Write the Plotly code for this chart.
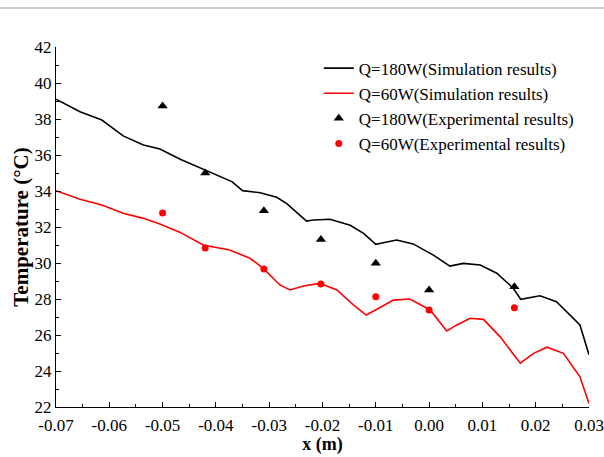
import plotly.graph_objects as go

# Simulation results, Q=180W
sim180_x = [-0.07, -0.0655, -0.0614, -0.0574, -0.0536, -0.0505, -0.0467, -0.0424, -0.0370, -0.0350,
            -0.0317, -0.0286, -0.0267, -0.0230, -0.0217, -0.0186, -0.0148, -0.0123, -0.0100, -0.0086,
            -0.0061, -0.0030, 0.0008, 0.0039, 0.0064, 0.0096, 0.0127, 0.0158, 0.0172, 0.0208,
            0.0239, 0.0283, 0.0300]
sim180_y = [39.1, 38.4, 37.94, 37.06, 36.56, 36.33, 35.76, 35.2, 34.52, 34.02,
            33.9, 33.65, 33.3, 32.33, 32.39, 32.43, 32.1, 31.65, 31.04, 31.13,
            31.28, 31.06, 30.44, 29.83, 29.98, 29.89, 29.43, 28.6, 27.98, 28.18,
            27.85, 26.56, 24.9]

# Simulation results, Q=60W
sim60_x = [-0.07, -0.0655, -0.0614, -0.0574, -0.0536, -0.0505, -0.0467, -0.0424, -0.0374, -0.0336,
           -0.0311, -0.0280, -0.0261, -0.0236, -0.0205, -0.0173, -0.0142, -0.0118, -0.0098, -0.0067,
           -0.0036, 0.0002, 0.0033, 0.0052, 0.0077, 0.0102, 0.0133, 0.0171, 0.0196, 0.0221,
           0.0252, 0.0283, 0.0300]
sim60_y = [34.02, 33.54, 33.22, 32.76, 32.48, 32.17, 31.7, 31.0, 30.72, 30.26,
           29.7, 28.78, 28.5, 28.72, 28.87, 28.5, 27.67, 27.11, 27.43, 27.94,
           28.0, 27.39, 26.22, 26.56, 26.93, 26.87, 25.91, 24.43, 24.98, 25.32,
           24.98, 23.68, 22.2]

# Experimental results
exp_x = [-0.05, -0.042, -0.031, -0.0203, -0.01, 0.0, 0.016]
exp180_y = [38.72, 35.0, 32.9, 31.3, 29.98, 28.5, 28.68]
exp60_y = [32.78, 30.83, 29.67, 28.83, 28.13, 27.39, 27.52]

x_ticks = [-0.07, -0.06, -0.05, -0.04, -0.03, -0.02, -0.01, 0.00, 0.01, 0.02, 0.03]
x_tick_text = ["-0.07", "-0.06", "-0.05", "-0.04", "-0.03", "-0.02", "-0.01", "0.00", "0.01", "0.02", "0.03"]
y_ticks = [22, 24, 26, 28, 30, 32, 34, 36, 38, 40, 42]

FONT = "Liberation Serif, Times New Roman, serif"

fig = go.Figure()
fig.add_trace(go.Scatter(x=sim180_x, y=sim180_y, mode="lines", name="Q=180W(Simulation results)",
                         line=dict(color="black", width=1.6)))
fig.add_trace(go.Scatter(x=sim60_x, y=sim60_y, mode="lines", name="Q=60W(Simulation results)",
                         line=dict(color="#ff0000", width=1.6)))
fig.add_trace(go.Scatter(x=exp_x, y=exp180_y, mode="markers", name="Q=180W(Experimental results)",
                         marker=dict(symbol="triangle-up", color="black", size=9)))
fig.add_trace(go.Scatter(x=exp_x, y=exp60_y, mode="markers", name="Q=60W(Experimental results)",
                         marker=dict(symbol="circle", color="#ff0000", size=7)))

axis_common = dict(showgrid=False, zeroline=False, showline=True, linecolor="black", linewidth=1.2,
                   ticks="inside", ticklen=5, tickwidth=1.2, tickcolor="black",
                   tickfont=dict(family=FONT, size=17, color="black"),
                   minor=dict(ticks="inside", ticklen=3, tickwidth=1, tickcolor="black"),
                   mirror=False, automargin=False)

fig.update_xaxes(range=[-0.07, 0.03], tickvals=x_ticks, ticktext=x_tick_text,
                 minor_dtick=0.005, minor_tick0=-0.07, ticklabelstandoff=2,
                 title=dict(text="<b>x (m)</b>", font=dict(family=FONT, size=18, color="black"), standoff=3),
                 **axis_common)
fig.update_yaxes(range=[22, 42], tickvals=y_ticks, minor_dtick=1, minor_tick0=22,
                 title=dict(text="<b>Temperature (°C)</b>", font=dict(family=FONT, size=21, color="black"), standoff=0),
                 **axis_common)

fig.add_shape(type="line", xref="paper", yref="paper", x0=-0.2, x1=1.2, y0=1.1083, y1=1.1083,
              line=dict(color="#bbbbbb", width=1.5))

fig.update_layout(
    width=604, height=457,
    margin=dict(l=56, r=15, t=47, b=50),
    paper_bgcolor="white", plot_bgcolor="white",
    font=dict(family=FONT, color="black"),
    legend=dict(x=0.493, y=0.99, xanchor="left", yanchor="top", bgcolor="rgba(0,0,0,0)",
                font=dict(family=FONT, size=17, color="black"), tracegroupgap=0, itemwidth=30),
    showlegend=True,
)

fig.write_html("out.html", config={"displayModeBar": False},
               post_script="document.body.style.margin='0';document.body.style.overflow='hidden';")
